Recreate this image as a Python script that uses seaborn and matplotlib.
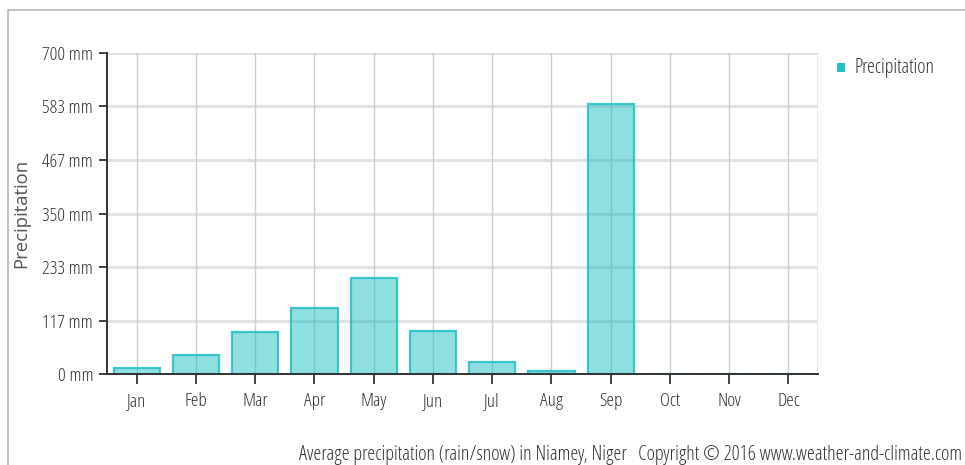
import matplotlib
matplotlib.use("Agg")
import matplotlib.pyplot as plt
import seaborn as sns
import pandas as pd
from matplotlib.patches import Rectangle

months = ["Jan", "Feb", "Mar", "Apr", "May", "Jun",
          "Jul", "Aug", "Sep", "Oct", "Nov", "Dec"]
precip_mm = [14, 42, 92, 144, 210, 94, 26, 8, 588, 0, 0, 0]
ytick_values = [0, 117, 233, 350, 467, 583, 700]
ytick_labels = [f"{v} mm" for v in ytick_values]

sns.set_theme(style="white")
plt.rcParams["font.family"] = ["Open Sans", "DejaVu Sans"]
plt.rcParams["font.stretch"] = "condensed"

df = pd.DataFrame({"month": months, "precip": precip_mm})

fig = plt.figure(figsize=(9.65, 4.65), dpi=100)
ax = fig.add_axes([0.1109, 0.195, 0.8477 - 0.1109, 0.8867 - 0.195])

# outer frame of the chart panel
fig.patches.append(Rectangle((8 / 965, -0.01), 1.0, 1 - 10 / 465 + 0.01,
                             transform=fig.transFigure, fill=False,
                             edgecolor="#b5b5b5", linewidth=1.2, zorder=0))

teal = (0.125, 0.745, 0.76)
sns.barplot(data=df, x="month", y="precip", ax=ax, width=0.78,
            color=teal, saturation=1, zorder=3)
for p in ax.patches:
    p.set_facecolor((*teal, 0.5))
    p.set_edgecolor((0.16, 0.76, 0.78, 0.9))
    p.set_linewidth(1.6)

ax.set_xlim(-0.5, 11.5)
ax.set_ylim(0, 700)
ax.set_yticks(ytick_values)
ax.set_yticklabels(ytick_labels)
ax.set_xlabel("")
ax.set_ylabel("")

# grid: light horizontal bands, thin vertical month lines
for v in ytick_values[1:]:
    ax.axhline(v, color="#e2e2e2", linewidth=2.2, zorder=1)
ax.xaxis.grid(True, color="#cccccc", linewidth=1.0, zorder=4)
ax.set_axisbelow(False)

for s in ["top", "right"]:
    ax.spines[s].set_visible(False)
ax.axvline(11.5, color="#e6e6e6", linewidth=1.2, zorder=1)
for s in ["left", "bottom"]:
    ax.spines[s].set_color("#333333")
    ax.spines[s].set_linewidth(1.4)
    ax.spines[s].set_zorder(5)

ax.tick_params(axis="both", which="both", direction="out", color="#333333",
               width=1.3, labelsize=13.8, labelcolor="#333333")
ax.tick_params(axis="y", length=6, pad=4)
ax.tick_params(axis="x", length=7, pad=6)
ax.tick_params(left=True, bottom=True)

fig.text(21.5 / 965, 1 - 213 / 465, "Precipitation", rotation=90,
         fontsize=13.3, fontstretch="normal", color="#555555",
         ha="center", va="center")

# legend entry
fig.patches.append(Rectangle((837 / 965, 1 - 72.5 / 465), 8 / 965, 9 / 465,
                             transform=fig.transFigure, facecolor="#22bfc4",
                             edgecolor="none"))
fig.text(854 / 965, 1 - 68 / 465, "Precipitation", fontsize=14.3,
         color="#333333", va="center", ha="left")

fig.text(962 / 965, 1 - 455 / 465,
         "Average precipitation (rain/snow) in Niamey, Niger   "
         "Copyright \u00a9 2016 www.weather-and-climate.com",
         fontsize=14.5, color="#333333", ha="right", va="center")

fig.savefig("out.png", dpi=100)
